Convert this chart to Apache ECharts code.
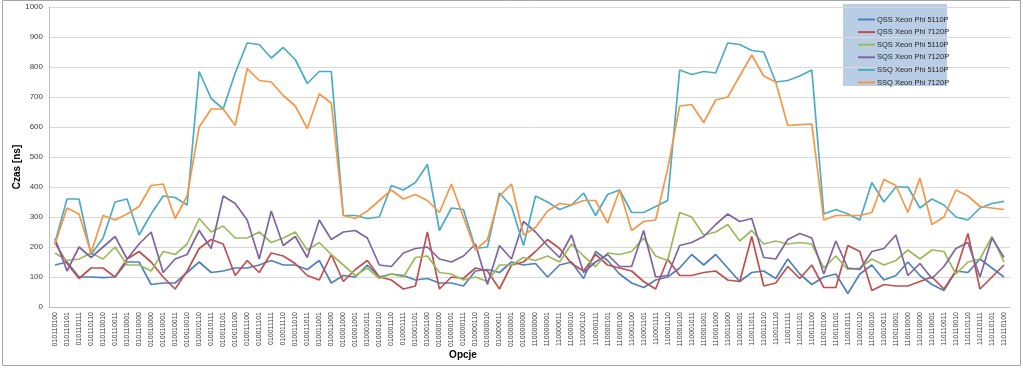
<!DOCTYPE html>
<html>
<head>
<meta charset="utf-8">
<script src="https://cdn.jsdelivr.net/npm/echarts@6/dist/echarts.min.js"></script>
<style>
html,body{margin:0;padding:0;background:#fff;}
#chart{width:1023px;height:368px;}
</style>
</head>
<body>
<div id="chart"></div>
<script>
const categories = [
"010110100","010110101","010110111","010110110","010110010","010110011","010110001","010110000",
"010010000","010010001","010010011","010010010","010010110","010010111","010010101","010010100",
"010011100","010011101","010011111","010011110","010011010","010011011","010011001","010011000",
"010001000","010001001","010001011","010001010","010001110","010001111","010001101","010001100",
"010000100","010000101","010000111","010000110","010000010","010000011","010000001","010000000",
"110000000","110000001","110000011","110000010","110000110","110000111","110000101","110000100",
"110001100","110001101","110001111","110001110","110001010","110001011","110001001","110001000",
"110011000","110011001","110011011","110011010","110011110","110011111","110011101","110011100",
"110010100","110010101","110010111","110010110","110010010","110010011","110010001","110010000",
"110110000","110110001","110110011","110110010","110110110","110110111","110110101","110110100"
];
const seriesNames = ["QSS Xeon Phi 5110P","QSS Xeon Phi 7120P","SQS Xeon Phi 5110P","SQS Xeon Phi 7120P","SSQ Xeon Phi 5110P","SSQ Xeon Phi 7120P"];
const qss5110 = [140,150,100,100,98,100,150,150,75,80,80,115,
150,115,120,130,130,140,155,140,140,125,155,80,
105,100,140,100,110,105,90,95,80,80,70,120,
125,115,150,140,145,100,140,150,95,185,155,110,
80,65,90,100,130,175,140,175,130,85,115,120,
95,160,110,75,100,110,45,110,140,90,105,150,
105,75,55,120,115,160,130,100];
const qss7120 = [215,145,95,130,130,100,160,185,150,100,60,120,
195,225,210,105,155,115,180,170,145,105,90,175,
85,125,155,100,90,60,70,250,60,100,95,130,
120,60,140,150,185,225,195,145,120,175,140,130,
120,85,60,160,105,105,115,120,90,85,235,70,
80,135,95,140,65,65,205,185,55,75,70,70,
85,100,60,120,245,60,100,140];
const sqs5110 = [180,155,160,180,160,200,140,140,120,185,175,210,
295,250,270,230,230,250,215,230,250,190,215,175,
140,105,130,95,110,100,165,170,115,110,90,100,
85,140,140,165,155,170,150,210,170,135,180,175,
185,230,170,155,315,300,240,250,275,220,255,210,
220,210,215,210,130,170,125,130,160,140,155,190,
160,190,185,110,150,160,235,150];
const sqs7120 = [228,120,200,165,200,235,160,210,250,115,160,175,
255,195,370,345,290,160,320,205,235,165,290,225,
250,255,230,140,135,180,195,200,160,150,170,210,
75,205,160,285,250,205,165,240,115,150,175,135,
135,255,100,105,205,215,235,275,310,285,295,165,
160,225,245,230,110,220,130,125,185,195,240,105,
145,95,135,195,215,100,230,165];
const ssq5110 = [215,360,360,175,230,350,360,240,310,370,365,340,
785,695,660,780,880,875,830,865,825,745,785,785,
305,305,295,300,405,390,415,475,255,330,325,195,
200,380,335,205,370,350,325,340,380,305,375,390,
315,315,335,355,790,775,785,780,880,875,855,850,
750,755,770,790,310,325,310,290,415,350,400,400,
330,360,340,300,290,330,345,352];
const ssq7120 = [210,330,310,180,305,290,310,335,405,410,295,370,
600,660,660,605,795,755,750,705,670,595,710,680,
305,295,320,355,390,360,375,355,315,410,300,190,
225,370,410,240,265,320,345,340,355,355,280,390,
255,285,290,460,670,675,615,690,700,770,840,770,
750,605,608,610,290,305,305,305,315,425,405,315,
430,275,300,390,370,335,330,325];
const yTicks = [0,100,200,300,400,500,600,700,800,900,1000];

const colors = ['#4F81BD','#C0504D','#9BBB59','#8064A2','#4BACC6','#F79646'];
const allData = [qss5110, qss7120, sqs5110, sqs7120, ssq5110, ssq7120];
const FONT = '"Liberation Sans", Arial, sans-serif';

const chart = echarts.init(document.getElementById('chart'), null, {renderer:'canvas'});
chart.setOption({
  animation: false,
  backgroundColor: '#ffffff',
  color: colors,
  grid: {left: 49, right: 13, top: 7, bottom: 61, containLabel: false},
  legend: {
    orient: 'vertical',
    left: 853, top: 10,
    icon: 'rect',
    itemWidth: 17, itemHeight: 2, itemGap: 3.6,
    textStyle: {fontSize: 7.5, lineHeight: 9, color: '#262626', fontFamily: FONT, padding: [0,0,0,-3]},
    data: seriesNames
  },
  xAxis: {
    type: 'category',
    data: categories,
    boundaryGap: true,
    axisLine: {lineStyle: {color: '#bfbfbf'}},
    axisTick: {show: false},
    axisLabel: {interval: 0, rotate: 90, fontSize: 7, color: '#404040', fontFamily: FONT, margin: 5}
  },
  yAxis: {
    type: 'value',
    min: yTicks[0], max: yTicks[yTicks.length-1], interval: 100,
    axisLine: {show: true, lineStyle: {color: '#bfbfbf'}},
    axisTick: {show: false},
    splitLine: {lineStyle: {color: '#d9d9d9', width: 1}},
    axisLabel: {fontSize: 8, color: '#404040', fontFamily: FONT, margin: 6, formatter: v => String(v)}
  },
  graphic: [
    {type: 'rect', z: -1, shape: {x: 2.5, y: 0.5, width: 1018, height: 365}, style: {fill: 'none', stroke: '#a6a6a6', lineWidth: 1}},
    {type: 'rect', z: 0, shape: {x: 843, y: 4, width: 104, height: 82}, style: {fill: '#b9cde5', stroke: 'none'}},
    {type: 'text', x: 17, y: 167, rotation: Math.PI/2, style: {text: 'Czas [ns]', font: 'bold 10px ' + FONT, fill: '#000', textAlign: 'center', textVerticalAlign: 'middle'}},
    {type: 'text', x: 463, y: 355, style: {text: 'Opcje', font: 'bold 10px ' + FONT, fill: '#000', textAlign: 'center', textVerticalAlign: 'middle'}}
  ],
  series: seriesNames.map((n, i) => ({
    name: n,
    type: 'line',
    data: allData[i],
    symbol: 'none',
    lineStyle: {width: 1.7, color: colors[i]},
    itemStyle: {color: colors[i]}
  }))
});
</script>
</body>
</html>
